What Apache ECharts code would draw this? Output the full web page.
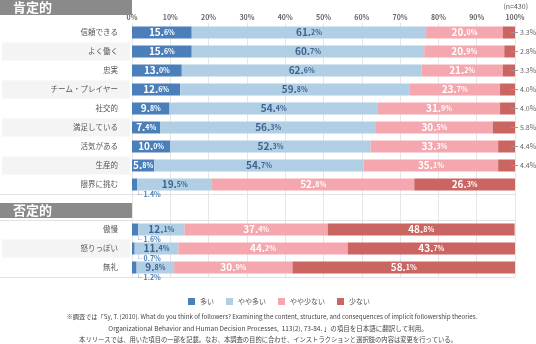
<!DOCTYPE html>
<html><head><meta charset="utf-8">
<script src="https://cdn.jsdelivr.net/npm/echarts@6/dist/echarts.min.js"></script>
<style>html,body{margin:0;padding:0;background:#fff}#c{width:536px;height:344px}</style>
</head><body><div id="c"></div>
<script>
const catsPos = ['信頼できる','よく働く','忠実','チーム・プレイヤー','社交的','満足している','活気がある','生産的','限界に挑む'];
const catsNeg = ['傲慢','怒りっぽい','無礼'];
const seriesNames = ['多い','やや多い','やや少ない','少ない'];
const manyPos     = [15.6,15.6,13.0,12.6,9.8,7.4,10.0,5.8,1.4];
const someMorePos = [61.2,60.7,62.6,59.8,54.4,56.3,52.3,54.7,19.5];
const someLessPos = [20.0,20.9,21.2,23.7,31.9,30.5,33.3,35.1,52.8];
const fewPos      = [3.3,2.8,3.3,4.0,4.0,5.8,4.4,4.4,26.3];
const manyNeg     = [1.6,0.7,1.2];
const someMoreNeg = [12.1,11.4,9.8];
const someLessNeg = [37.4,44.2,30.9];
const fewNeg      = [48.8,43.7,58.1];
const xTicks = [0,10,20,30,40,50,60,70,80,90,100];

const FONT = '"Noto Sans CJK JP","Noto Sans",sans-serif';
const COLORS = ['#4a7fba','#b0cfe4','#f4a7ae','#cb6561'];
const TXT = ['#ffffff','#3f628e','#ffffff','#ffffff'];
const L = 132, RIGHT = 21, TOP = 23, ROW = 19, NEGTOP = 220;
const POSH = ROW * catsPos.length, NEGH = ROW * catsNeg.length;

function richFor(color){
  return {
    a:{fontSize:10,fontWeight:'bold',color:color,fontFamily:FONT},
    b:{fontSize:7,fontWeight:'bold',color:color,fontFamily:FONT},
    d:{width:7,height:1,backgroundColor:'#999'},
    t:{fontSize:7,color:'#666',padding:[0,0,0,2],fontFamily:FONT},
    c:{width:3,height:4,borderColor:'#7fa3cc',borderWidth:0.8,backgroundColor:'transparent'},
    s:{fontSize:7,color:'#4a7fba',fontWeight:'bold',padding:[0,0,0,2],fontFamily:FONT}
  };
}
function fmtIn(v){ const s=v.toFixed(1).split('.'); return '{a|'+s[0]+'.}{b|'+s[1]+'%}'; }

function makeData(vals, idx){
  return vals.map(v=>{
    if(idx===0 && v<5){
      return {value:v,label:{position:[1,12],formatter:'{s|└ '+v.toFixed(1)+'%}'}};
    }
    if(idx===3 && v<10){
      return {value:v,label:{position:'right',distance:-4,formatter:'{d|}{t|'+v.toFixed(1)+'%}'}};
    }
    return v;
  });
}

const series = [];
[[manyPos,someMorePos,someLessPos,fewPos],[manyNeg,someMoreNeg,someLessNeg,fewNeg]].forEach((grp,g)=>{
  grp.forEach((vals,i)=>{
    series.push({
      name:seriesNames[i], type:'bar', stack:'s'+g,
      xAxisIndex:g+1, yAxisIndex:g+1, barWidth:12,
      itemStyle:{color:COLORS[i]},
      label:{show:true,position:'inside',formatter:p=>fmtIn(p.value),rich:richFor(TXT[i])},
      data:makeData(vals,i)
    });
  });
});

function labelData(cats){
  return cats.map((c,i)=>({value:c,textStyle:{backgroundColor:i%2===1?'#f4f4f4':'transparent'}}));
}
const yLabel = {margin:2,width:116,height:ROW-1,lineHeight:ROW-1,padding:[0,12,0,0],align:'right',
  fontSize:7.5,color:'#555',fontFamily:FONT};

const lineStyle = {stroke:'#e2e2e2',lineWidth:1};
const chart = echarts.init(document.getElementById('c'));
chart.setOption({
  animation:false,
  textStyle:{fontFamily:FONT},
  legend:{data:seriesNames,left:183,top:293,icon:'rect',itemWidth:7,itemHeight:7,itemGap:12,
    textStyle:{fontSize:7,color:'#555',fontFamily:FONT}},
  grid:[
    {left:L,right:RIGHT,top:TOP,height:NEGTOP+NEGH-TOP,containLabel:false,outerBoundsMode:'none'},
    {left:L,right:RIGHT,top:TOP,height:POSH,containLabel:false,outerBoundsMode:'none'},
    {left:L,right:RIGHT,top:NEGTOP,height:NEGH,containLabel:false,outerBoundsMode:'none'}
  ],
  xAxis:[
    {gridIndex:0,type:'value',position:'top',min:xTicks[0],max:xTicks[xTicks.length-1],interval:xTicks[1]-xTicks[0],
      axisLine:{show:false},axisTick:{show:false},
      axisLabel:{margin:2,fontSize:7,color:'#666',fontWeight:'bold',formatter:'{value}%',fontFamily:FONT},
      splitLine:{lineStyle:{color:'#e6e6e6'}}},
    {gridIndex:1,type:'value',min:0,max:100,show:false},
    {gridIndex:2,type:'value',min:0,max:100,show:false}
  ],
  yAxis:[
    {gridIndex:0,type:'value',show:false},
    {gridIndex:1,type:'category',inverse:true,data:labelData(catsPos),axisLine:{show:false},axisTick:{show:false},axisLabel:yLabel},
    {gridIndex:2,type:'category',inverse:true,data:labelData(catsNeg),axisLine:{show:false},axisTick:{show:false},axisLabel:yLabel}
  ],
  graphic:[
    {type:'rect',shape:{x:0,y:0,width:L,height:15},style:{fill:'#8a8a8a'},z:10},
    {type:'text',x:13,y:7.5,style:{text:'肯定的',fill:'#fff',font:'bold 13px '+FONT,textVerticalAlign:'middle'},z:11},
    {type:'rect',shape:{x:0,y:203,width:L,height:15},style:{fill:'#8a8a8a'},z:10},
    {type:'text',x:13,y:210.5,style:{text:'否定的',fill:'#fff',font:'bold 13px '+FONT,textVerticalAlign:'middle'},z:11},
    {type:'line',shape:{x1:0,y1:TOP+POSH+0.5,x2:536-RIGHT,y2:TOP+POSH+0.5},style:lineStyle},
    {type:'line',shape:{x1:0,y1:NEGTOP+0.5,x2:536-RIGHT,y2:NEGTOP+0.5},style:lineStyle},
    {type:'line',shape:{x1:0,y1:NEGTOP+NEGH+0.5,x2:536-RIGHT,y2:NEGTOP+NEGH+0.5},style:lineStyle},
    {type:'text',x:528,y:6,style:{text:'(n=430)',fill:'#555',font:'7px '+FONT,textAlign:'right',textVerticalAlign:'middle'}},
    {type:'text',x:272,y:317,style:{text:'※調査では「Sy, T. (2010). What do you think of followers? Examining the content, structure, and consequences of implicit followership theories.',fill:'#444',font:'6.2px '+FONT,textAlign:'center',textVerticalAlign:'middle'}},
    {type:'text',x:268,y:329,style:{text:'Organizational Behavior and Human Decision Processes,  113(2), 73-84. 」の項目を日本語に翻訳して利用。',fill:'#444',font:'6.5px '+FONT,textAlign:'center',textVerticalAlign:'middle'}},
    {type:'text',x:268,y:340,style:{text:'本リリースでは、用いた項目の一部を記載。なお、本調査の目的に合わせ、インストラクションと選択肢の内容は変更を行っている。',fill:'#444',font:'6.3px '+FONT,textAlign:'center',textVerticalAlign:'middle'}}
  ],
  series:series
});
</script></body></html>
